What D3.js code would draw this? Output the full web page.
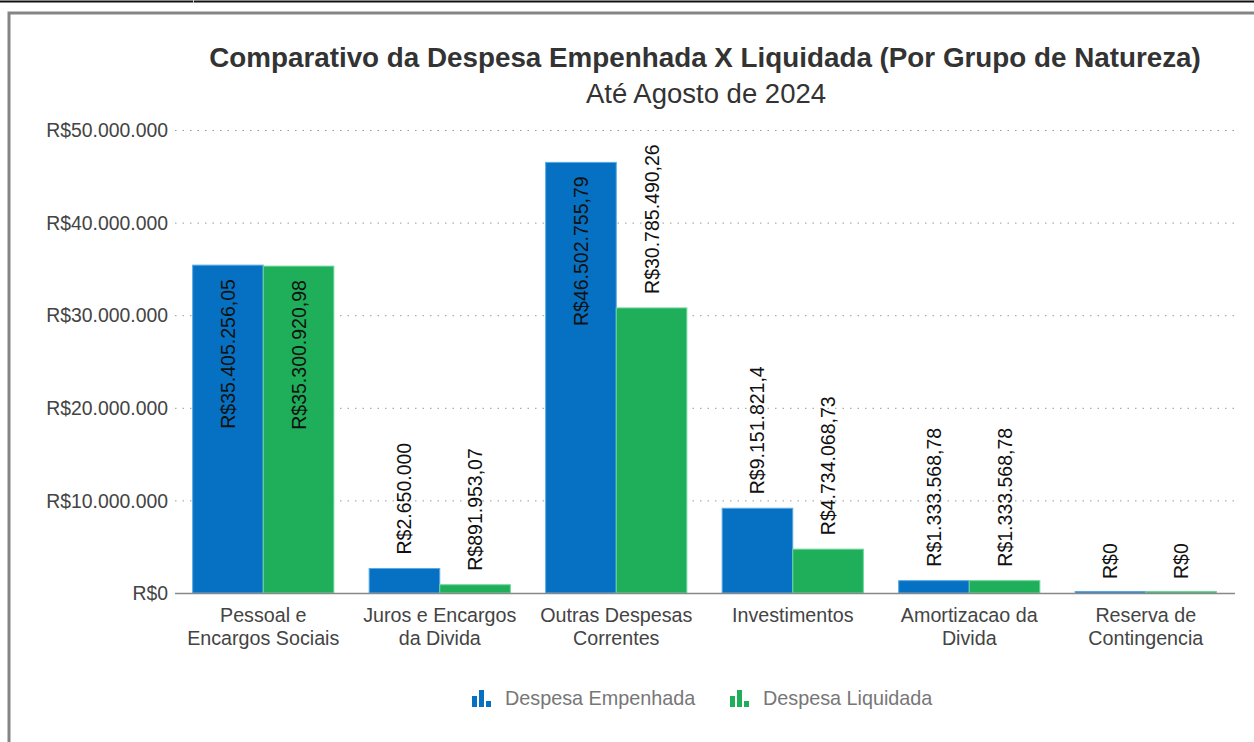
<!DOCTYPE html>
<html>
<head>
<meta charset="utf-8">
<script src="https://cdn.jsdelivr.net/npm/d3@7"></script>
<style>
  body { margin: 0; background: #fff; }
  svg { display: block; font-family: "Liberation Sans", Arial, sans-serif; }
</style>
</head>
<body>
<script>
// data
var categories = [
  ["Pessoal e", "Encargos Sociais"],
  ["Juros e Encargos", "da Divida"],
  ["Outras Despesas", "Correntes"],
  ["Investimentos"],
  ["Amortizacao da", "Divida"],
  ["Reserva de", "Contingencia"]
];
var empenhada = [35405256.05, 2650000, 46502755.79, 9151821.4, 1333568.78, 0];
var liquidada = [35300920.98, 891953.07, 30785490.26, 4734068.73, 1333568.78, 0];
var seriesNames = ["Despesa Empenhada", "Despesa Liquidada"];
var yTicks = [0, 10000000, 20000000, 30000000, 40000000, 50000000];

var colors = ["#0671c2", "#1faf5b"];
var strokes = ["#5aa9e6", "#6fd69a"];

var W = 1254, H = 742;

var br = d3.formatLocale({ decimal: ",", thousands: ".", grouping: [3], currency: ["R$", ""] });
var fmtVal = br.format("$,.2~f");
var fmtTick = br.format("$,.0f");

var svg = d3.select("body").append("svg")
  .attr("width", W)
  .attr("height", H);

// page frame
svg.append("line").attr("x1", 0).attr("x2", W).attr("y1", 1.5).attr("y2", 1.5)
  .attr("stroke", "#111").attr("stroke-width", 2);
svg.append("line").attr("x1", 193.5).attr("x2", 193.5).attr("y1", 0).attr("y2", 3)
  .attr("stroke", "#ccc").attr("stroke-width", 1);
svg.append("path")
  .attr("d", "M9," + H + " V13 H" + W)
  .attr("fill", "none").attr("stroke", "#858585").attr("stroke-width", 3);

var x0 = d3.scaleBand()
  .domain(d3.range(categories.length))
  .range([175, 1234])
  .paddingInner(0.2)
  .paddingOuter(0.1);

var x1 = d3.scaleBand()
  .domain([0, 1])
  .range([0, x0.bandwidth()]);

var y = d3.scaleLinear()
  .domain([0, 50000000])
  .range([593, 130]);

// title
svg.append("text")
  .attr("x", 705).attr("y", 67)
  .attr("text-anchor", "middle")
  .attr("font-size", 27.8).attr("font-weight", "bold").attr("fill", "#333")
  .text("Comparativo da Despesa Empenhada X Liquidada (Por Grupo de Natureza)");
svg.append("text")
  .attr("x", 706).attr("y", 103)
  .attr("text-anchor", "middle")
  .attr("font-size", 27.5).attr("fill", "#333")
  .text("Até Agosto de 2024");

// y axis with dotted grid
var yAxis = svg.append("g")
  .attr("transform", "translate(175,0)")
  .call(d3.axisLeft(y).tickValues(yTicks).tickFormat(fmtTick).tickSize(-1060).tickPadding(7));
yAxis.select(".domain").remove();
yAxis.selectAll(".tick line")
  .attr("stroke", "#999").attr("stroke-dasharray", "1.5,6");
yAxis.selectAll(".tick text")
  .attr("font-size", 19.4).attr("fill", "#444").attr("dy", "0.34em")
  .attr("font-family", "Liberation Sans, Arial, sans-serif");

// bars
var groups = svg.selectAll("g.cat")
  .data(categories.map(function(c, i) { return { i: i, vals: [empenhada[i], liquidada[i]] }; }))
  .enter().append("g")
  .attr("class", "cat")
  .attr("transform", function(d) { return "translate(" + x0(d.i) + ",0)"; });

var bars = groups.selectAll("g.bar")
  .data(function(d) { return d.vals.map(function(v, s) { return { v: v, s: s }; }); })
  .enter().append("g").attr("class", "bar");

bars.append("rect")
  .attr("x", function(d) { return x1(d.s); })
  .attr("width", x1.bandwidth())
  .attr("y", function(d) { return Math.min(y(d.v), y(0) - 1.5); })
  .attr("height", function(d) { return Math.max(y(0) - y(d.v), 1.5); })
  .attr("fill", function(d) { return colors[d.s]; })
  .attr("stroke", function(d) { return strokes[d.s]; })
  .attr("stroke-width", 1);

bars.append("text")
  .attr("font-size", 19.5).attr("fill", "#111")
  .text(function(d) { return fmtVal(d.v); })
  .each(function(d) {
    var len = this.getComputedTextLength();
    var top = y(d.v);
    var cx = x1(d.s) + x1.bandwidth() / 2 + 7;
    var inside = top - 14 - len < 125;
    var ty = inside ? top + 14 : top - 14;
    d3.select(this)
      .attr("text-anchor", inside ? "end" : "start")
      .attr("transform", "translate(" + cx + "," + ty + ") rotate(-90)");
  });

// x axis baseline
svg.append("line")
  .attr("x1", 175).attr("x2", 1235)
  .attr("y1", 593.5).attr("y2", 593.5)
  .attr("stroke", "#888").attr("stroke-width", 1.5);

// category labels
var catText = svg.selectAll("text.cat")
  .data(categories)
  .enter().append("text")
  .attr("class", "cat")
  .attr("text-anchor", "middle")
  .attr("font-size", 19.7).attr("fill", "#444")
  .attr("x", function(d, i) { return x0(i) + x0.bandwidth() / 2; })
  .attr("y", 622);
catText.selectAll("tspan")
  .data(function(d) { return d; })
  .enter().append("tspan")
  .attr("x", function() { return d3.select(this.parentNode).attr("x"); })
  .attr("dy", function(d, i) { return i === 0 ? 0 : 23; })
  .text(function(d) { return d; });

// legend
var legendX = [472, 730];
var legend = svg.selectAll("g.legend")
  .data(seriesNames)
  .enter().append("g")
  .attr("class", "legend")
  .attr("transform", function(d, i) { return "translate(" + legendX[i] + ",689)"; });
legend.each(function(d, i) {
  var g = d3.select(this);
  [[0, 7, 11], [7, 1, 17], [14, 12, 6]].forEach(function(b) {
    g.append("rect").attr("x", b[0]).attr("y", b[1]).attr("width", 5).attr("height", b[2])
      .attr("fill", colors[i]);
  });
});
legend.append("text")
  .attr("x", 33).attr("y", 16)
  .attr("font-size", 19.8).attr("fill", "#777")
  .text(function(d) { return d; });
</script>
</body>
</html>
